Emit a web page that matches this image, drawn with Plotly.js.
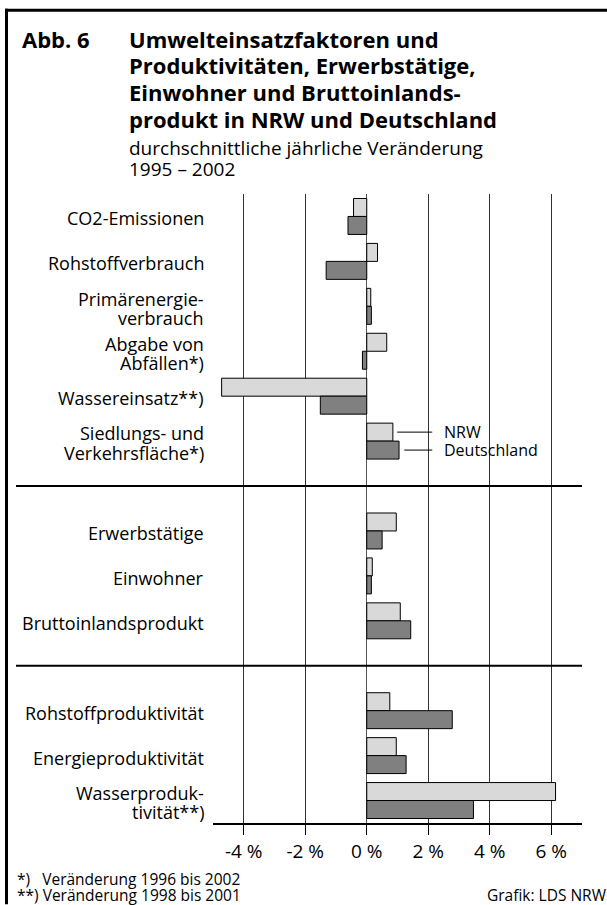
<!DOCTYPE html>
<html>
<head>
<meta charset="utf-8">
<script src="https://cdn.plot.ly/plotly-3.0.1.min.js"></script>
<style>
  body { margin: 0; background: #fff; }
  #chart { width: 607px; height: 905px; }
</style>
</head>
<body>
<div id="chart"></div>
<script>
// rows top to bottom, '' rows are the separator slots
const labels = [
  'CO2-Emissionen', 'Rohstoffverbrauch', 'Primärenergie-<br>verbrauch',
  'Abgabe von<br>Abfällen*)', 'Wassereinsatz**)', 'Siedlungs- und<br>Verkehrsfläche*)',
  '',
  'Erwerbstätige', 'Einwohner', 'Bruttoinlandsprodukt',
  '',
  'Rohstoffproduktivität', 'Energieproduktivität', 'Wasserproduk-<br>tivität**)'
];
const nrw = [-0.43, 0.35, 0.13, 0.65, -4.72, 0.85, null, 0.96, 0.18, 1.09, null, 0.75, 0.96, 6.14];
const deutschland = [-0.61, -1.32, 0.15, -0.14, -1.51, 1.05, null, 0.50, 0.15, 1.43, null, 2.78, 1.28, 3.47];
const tickVals = [-4, -2, 0, 2, 4, 6];
const tickText = ['-4 %', '-2 %', '0 %', '2 %', '4 %', '6 %'];
const separators = [6, 10];

const rows = labels.map((_, i) => i);
const font = 'Open Sans, sans-serif';

// plot box in pixels, used to place the header and footer text
const L = 213, R = 582, T = 193.5, B = 823.5;
const px = x => (x - L) / (R - L);
const py = y => (B - y) / (B - T);

const traces = [
  {type: 'bar', orientation: 'h', name: 'NRW', x: nrw, y: rows,
   marker: {color: '#d9d9d9', line: {color: '#000', width: 1}}},
  {type: 'bar', orientation: 'h', name: 'Deutschland', x: deutschland, y: rows,
   marker: {color: '#808080', line: {color: '#000', width: 1}}}
];

const annotations = [];

// row labels, one annotation per line so the leading stays tight
labels.forEach((lab, i) => {
  const parts = lab ? lab.split('<br>') : [];
  parts.forEach((p, j) => annotations.push({
    xref: 'paper', yref: 'y', x: px(206), y: i, xanchor: 'right', yanchor: 'middle',
    yshift: -2 - (j - (parts.length - 1) / 2) * 19.5,
    text: p, showarrow: false, font: {family: font, size: 18, color: '#000'}
  }));
});

const titleLines = [
  'Umwelteinsatzfaktoren und',
  'Produktivitäten, Erwerbstätige,',
  'Einwohner und Bruttoinlands-',
  'produkt in NRW und Deutschland'
];
titleLines.forEach((t, i) => annotations.push({
  xref: 'paper', yref: 'paper', x: px(127), y: py(55 + i * 26.7), xanchor: 'left', yanchor: 'bottom',
  text: '<b>' + t + '</b>', showarrow: false, font: {family: font, size: 22, color: '#000'}
}));
annotations.push({xref: 'paper', yref: 'paper', x: px(20), y: py(55), xanchor: 'left', yanchor: 'bottom',
  text: '<b>Abb. 6</b>', showarrow: false, font: {family: font, size: 22, color: '#000'}});
['durchschnittliche jährliche Veränderung', '1995 – 2002'].forEach((t, i) => annotations.push({
  xref: 'paper', yref: 'paper', x: px(127), y: py(162 + i * 21.5), xanchor: 'left', yanchor: 'bottom',
  text: t, showarrow: false, font: {family: font, size: 19, color: '#000'}
}));
annotations.push(
  {xref: 'x', yref: 'y', x: 2.45, y: 4.8, xanchor: 'left', text: 'NRW', showarrow: false,
   font: {family: font, size: 16, color: '#000'}},
  {xref: 'x', yref: 'y', x: 2.45, y: 5.2, xanchor: 'left', text: 'Deutschland', showarrow: false,
   font: {family: font, size: 16, color: '#000'}},
  {xref: 'paper', yref: 'paper', x: px(15), y: py(880), xanchor: 'left', yanchor: 'middle',
   text: '*)&nbsp;&nbsp;&nbsp;Veränderung 1996 bis 2002', showarrow: false, font: {family: font, size: 15.5, color: '#000'}},
  {xref: 'paper', yref: 'paper', x: px(15), y: py(896), xanchor: 'left', yanchor: 'middle',
   text: '**) Veränderung 1998 bis 2001', showarrow: false, font: {family: font, size: 15.5, color: '#000'}},
  {xref: 'paper', yref: 'paper', x: px(609), y: py(896), xanchor: 'right', yanchor: 'middle',
   text: 'Grafik: LDS NRW', showarrow: false, font: {family: font, size: 15.5, color: '#000'}}
);

const shapes = separators.map(s => ({
  type: 'line', xref: 'paper', yref: 'y', x0: px(16), x1: 1, y0: s, y1: s,
  line: {color: '#000', width: 2}
}));
shapes.push(
  {type: 'line', xref: 'x', yref: 'y', x0: 0.99, x1: 2.13, y0: 4.8, y1: 4.8, line: {color: '#000', width: 1}},
  {type: 'line', xref: 'x', yref: 'y', x0: 1.22, x1: 2.13, y0: 5.2, y1: 5.2, line: {color: '#000', width: 1}},
  // frame
  {type: 'line', xref: 'paper', yref: 'paper', x0: px(6.5), x1: px(6.5), y0: py(8), y1: py(905), line: {color: '#000', width: 3}},
  {type: 'line', xref: 'paper', yref: 'paper', x0: px(5), x1: px(607), y0: py(9.5), y1: py(9.5), line: {color: '#000', width: 3}}
);

const layout = {
  width: 607, height: 905,
  margin: {l: L, r: 607 - R, t: T, b: 905 - B},
  paper_bgcolor: '#fff', plot_bgcolor: '#fff',
  showlegend: false,
  barmode: 'group', bargap: 0.2, bargroupgap: 0,
  font: {family: font, size: 15, color: '#000'},
  xaxis: {
    range: [-5, 7], tickvals: tickVals, ticktext: tickText,
    showgrid: true, gridcolor: '#333', gridwidth: 1,
    zeroline: true, zerolinecolor: '#555', zerolinewidth: 1,
    showline: true, linecolor: '#000', linewidth: 2,
    ticks: 'outside', ticklen: 10, tickcolor: '#000', tickwidth: 1,
    tickfont: {family: font, size: 19, color: '#000'}
  },
  yaxis: {
    range: [13.5, -0.5], tickvals: rows, showticklabels: false,
    showgrid: false, zeroline: false, showline: false, ticks: ''
  },
  annotations: annotations,
  shapes: shapes
};

Plotly.newPlot('chart', traces, layout, {displayModeBar: false, staticPlot: true});
</script>
</body>
</html>
